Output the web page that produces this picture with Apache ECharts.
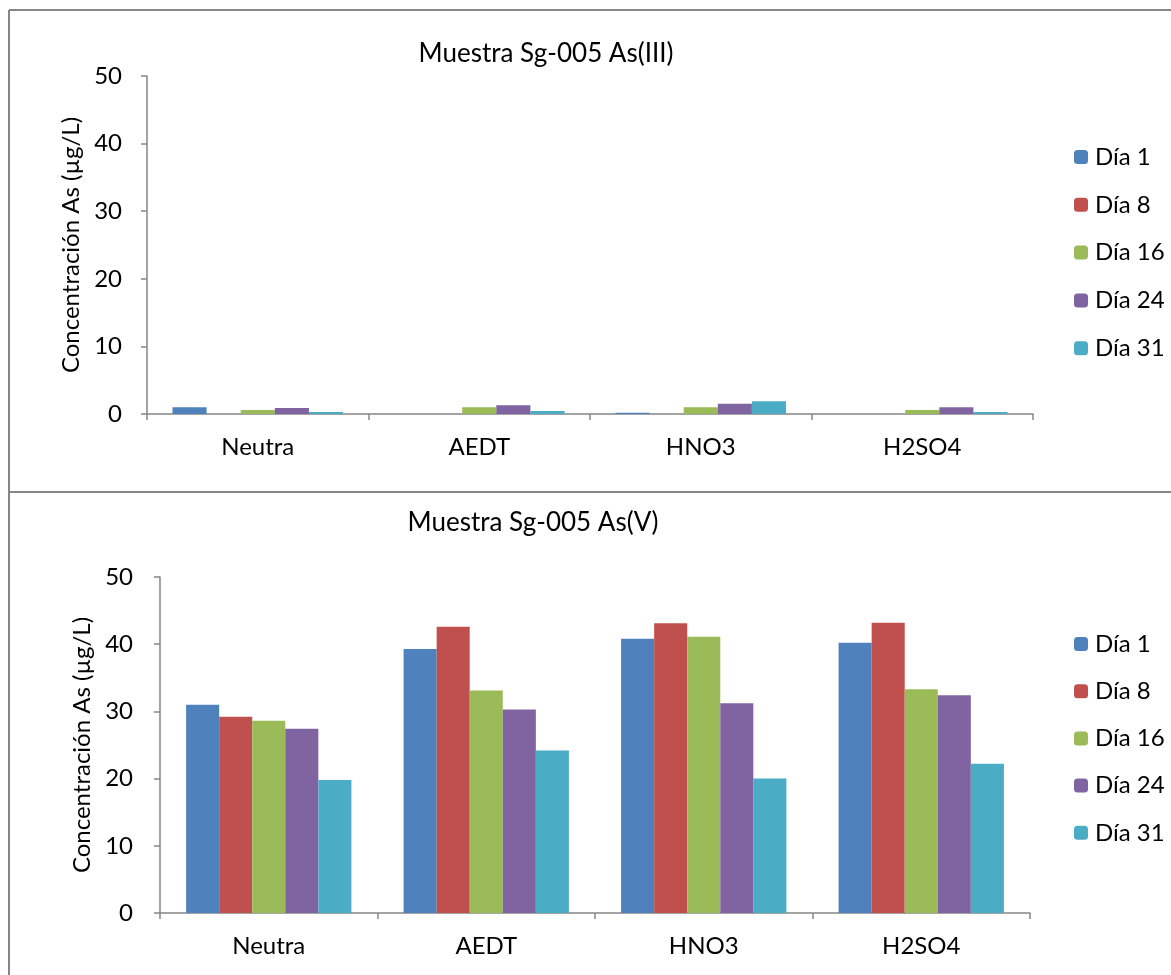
<!DOCTYPE html>
<html><head><meta charset="utf-8">
<script src="https://cdn.jsdelivr.net/npm/echarts@6/dist/echarts.min.js"></script>
<style>html,body{margin:0;padding:0;background:#fff}#c{width:1171px;height:975px}</style>
</head><body><div id="c"></div>
<script>
const categories = ['Neutra', 'AEDT', 'HNO3', 'H2SO4'];
const seriesNames = ['Día 1', 'Día 8', 'Día 16', 'Día 24', 'Día 31'];
const colors = ['#4F81BD', '#C0504D', '#9BBB59', '#8064A2', '#4BACC6'];
const yTicks = [0, 10, 20, 30, 40, 50];
// As(III), per category for each day
const asIII_dia1  = [1.0, 0, 0.2, 0];
const asIII_dia8  = [0, 0, 0, 0];
const asIII_dia16 = [0.6, 1.0, 1.0, 0.6];
const asIII_dia24 = [0.9, 1.3, 1.5, 1.0];
const asIII_dia31 = [0.3, 0.45, 1.9, 0.3];
// As(V)
const asV_dia1  = [31.0, 39.3, 40.8, 40.2];
const asV_dia8  = [29.2, 42.6, 43.1, 43.2];
const asV_dia16 = [28.6, 33.1, 41.1, 33.3];
const asV_dia24 = [27.4, 30.3, 31.2, 32.4];
const asV_dia31 = [19.8, 24.2, 20.0, 22.2];

const asIII = [asIII_dia1, asIII_dia8, asIII_dia16, asIII_dia24, asIII_dia31];
const asV = [asV_dia1, asV_dia8, asV_dia16, asV_dia24, asV_dia31];

const FONT = 'Lato, "Open Sans", sans-serif';
const FS = 24;
const axisGray = '#868686';

function xAxis(i) {
  return {
    type: 'category', gridIndex: i, data: categories,
    axisLine: {lineStyle: {color: axisGray, width: 1.5}},
    axisTick: {show: true, alignWithLabel: false, length: 6, lineStyle: {color: axisGray, width: 1.5}},
    axisLabel: {color: '#000', fontSize: FS, fontFamily: FONT, margin: 21}
  };
}
function yAxis(i) {
  return {
    type: 'value', gridIndex: i, min: yTicks[0], max: yTicks[yTicks.length - 1], interval: 10,
    name: 'Concentración As (µg/L)', nameLocation: 'middle', nameGap: i === 0 ? 61 : 57, nameRotate: 90,
    nameTextStyle: {color: '#000', fontSize: FS, fontFamily: FONT},
    axisLine: {show: true, lineStyle: {color: axisGray, width: 1.5}},
    axisTick: {show: true, length: 6, lineStyle: {color: axisGray, width: 1.5}},
    splitLine: {show: false},
    axisLabel: {color: '#000', fontSize: FS, fontFamily: FONT, margin: i === 0 ? 25 : 27}
  };
}
const series = [];
[asIII, asV].forEach((set, gi) => {
  set.forEach((vals, si) => {
    series.push({
      type: 'bar', name: seriesNames[si], xAxisIndex: gi, yAxisIndex: gi,
      data: vals, barGap: '0%', barCategoryGap: gi === 0 ? '23%' : '24%',
      itemStyle: {color: colors[si]}
    });
  });
});

const chart = echarts.init(document.getElementById('c'));
chart.setOption({
  backgroundColor: '#fff',
  animation: false,
  color: colors,
  title: [
    {text: 'Muestra Sg-005 As(III)', left: 541, top: 36, textAlign: 'center',
     textStyle: {fontSize: 26, fontWeight: 'normal', color: '#000', fontFamily: FONT}},
    {text: 'Muestra Sg-005 As(V)', left: 528, top: 505, textAlign: 'center',
     textStyle: {fontSize: 26, fontWeight: 'normal', color: '#000', fontFamily: FONT}}
  ],
  legend: [
    {orient: 'vertical', left: 1069, top: 140, itemWidth: 14, itemHeight: 14, itemGap: 23.8,
     data: seriesNames, selectedMode: false,
     textStyle: {fontSize: FS, fontFamily: FONT, color: '#000', padding: [0, 0, 0, 2]}},
    {orient: 'vertical', left: 1069, top: 627, itemWidth: 14, itemHeight: 14, itemGap: 23.2,
     data: seriesNames, selectedMode: false,
     textStyle: {fontSize: FS, fontFamily: FONT, color: '#000', padding: [0, 0, 0, 2]}}
  ],
  grid: [
    {left: 147, top: 76, width: 886, height: 338},
    {left: 160, top: 577, width: 870, height: 336}
  ],
  xAxis: [xAxis(0), xAxis(1)],
  yAxis: [yAxis(0), yAxis(1)],
  series: series,
  graphic: [
    {type: 'line', shape: {x1: 9, y1: 10, x2: 1171, y2: 10}, style: {stroke: axisGray, lineWidth: 2}},
    {type: 'line', shape: {x1: 9, y1: 10, x2: 9, y2: 975}, style: {stroke: axisGray, lineWidth: 2}},
    {type: 'line', shape: {x1: 9, y1: 492, x2: 1171, y2: 492}, style: {stroke: axisGray, lineWidth: 2}}
  ]
});
</script></body></html>
